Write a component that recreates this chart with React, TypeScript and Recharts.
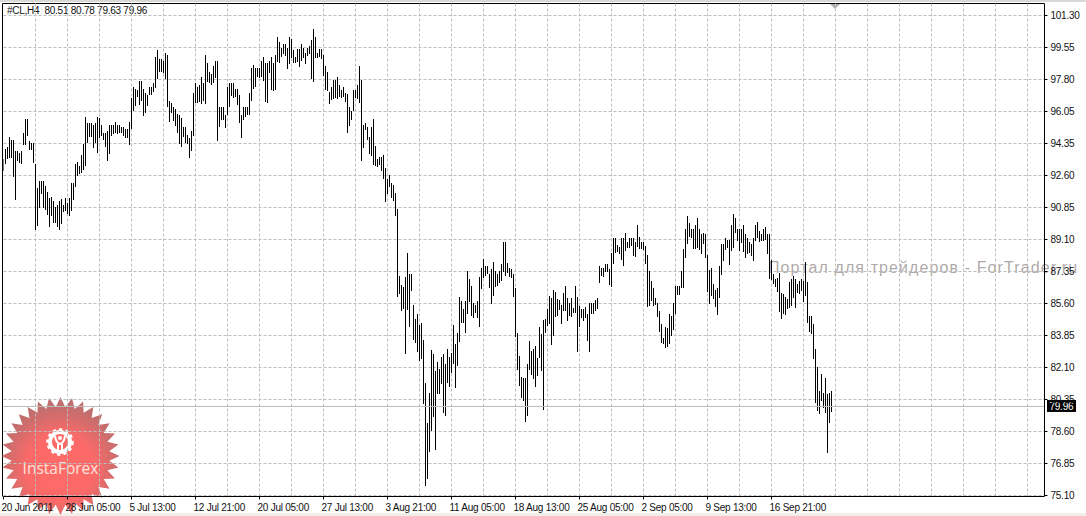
import { ComposedChart, Bar, XAxis, YAxis, CartesianGrid, ReferenceLine } from 'recharts';

const symbolLine = '#CL,H4  80.51 80.78 79.63 79.96';
const lastPrice = 79.96;
const lastPriceLabel = '79.96';

const highs = [
  93.44, 94.04, 94.10, 94.69, 94.53, 94.48, 93.88, 93.93, 93.77, 93.93, 94.86, 95.67, 95.67, 94.43, 94.32, 94.32, 93.22, 91.91, 92.29, 92.29,
  92.29, 92.02, 91.64, 91.36, 91.42, 91.20, 90.82, 90.98, 91.20, 91.31, 90.98, 91.36, 91.09, 91.36, 92.18, 92.13, 93.22, 93.33, 93.11, 93.71,
  94.26, 95.78, 95.41, 95.41, 95.41, 95.35, 95.41, 95.78, 95.73, 95.30, 94.86, 94.86, 95.02, 95.35, 95.35, 95.35, 95.46, 95.35, 95.30, 95.19,
  95.24, 95.13, 95.13, 95.51, 96.82, 97.42, 97.31, 97.21, 97.75, 97.75, 97.31, 97.05, 96.94, 97.37, 97.42, 97.59, 99.06, 99.39, 98.90, 98.95,
  98.84, 99.23, 99.17, 96.66, 96.55, 96.28, 96.17, 95.95, 95.89, 95.73, 95.24, 95.19, 94.75, 94.64, 94.97, 97.05, 97.59, 97.37, 97.53, 97.92,
  97.64, 99.17, 98.68, 98.19, 98.13, 98.57, 98.79, 98.84, 96.28, 96.33, 96.33, 95.89, 97.37, 97.59, 97.64, 97.64, 97.31, 97.31, 96.94, 95.89,
  96.28, 96.33, 96.28, 97.05, 98.41, 98.62, 98.41, 98.41, 98.41, 98.84, 99.01, 98.68, 98.68, 98.84, 99.01, 98.73, 99.12, 100.10, 99.83,
  99.55, 99.77, 99.77, 99.55, 100.15, 100.04, 99.39, 99.01, 99.45, 99.45, 99.72, 99.50, 99.28, 99.55, 99.66, 99.94, 100.59, 100.15, 99.28, 99.45,
  99.45, 99.12, 98.57, 98.19, 97.15, 97.42, 97.80, 97.80, 97.97, 97.53, 97.26, 97.37, 97.05, 96.99, 96.28, 96.06, 97.26, 97.26, 97.53, 98.57,
  97.80, 95.35, 95.41, 95.19, 94.69, 95.24, 95.67, 94.15, 93.44, 93.60, 93.55, 93.71, 93.00, 92.35, 92.57, 92.18, 92.07, 91.59, 90.76,
  87.10, 86.61, 86.50, 87.05, 88.31, 87.21, 87.21, 85.52, 84.76, 85.03, 84.43, 84.54, 83.61, 81.26, 79.08, 80.72, 83.06, 82.85, 81.92, 82.41,
  82.03, 82.68, 82.85, 82.30, 83.12, 82.68, 82.90, 84.43, 83.39, 83.99, 85.96, 85.74, 85.30, 85.69, 87.38, 86.89, 86.56, 85.63, 85.52, 85.74,
  87.05, 87.54, 88.03, 87.65, 87.60, 87.21, 87.49, 87.87, 87.38, 87.21, 87.38, 87.76, 88.91, 88.91, 87.81, 87.54, 87.49, 87.21, 86.45, 83.99,
  82.74, 81.59, 81.54, 81.54, 82.30, 83.56, 82.96, 83.12, 83.28, 82.63, 84.32, 83.94, 84.70, 84.76, 85.30, 86.01, 85.90, 86.34, 86.23, 85.85,
  85.79, 85.52, 86.18, 86.56, 85.90, 85.63, 85.90, 85.36, 86.56, 85.96, 85.47, 85.30, 85.30, 85.41, 84.98, 85.58, 85.63, 85.63, 85.79, 85.90,
  87.60, 87.54, 87.54, 87.71, 87.71, 87.49, 88.31, 89.18, 89.13, 88.80, 88.69,
  89.13, 89.13, 89.45, 88.91, 89.13, 89.18, 89.13, 88.96, 89.84, 89.23, 88.96, 88.91, 88.74, 88.20, 87.38, 86.83, 86.40, 85.90, 85.58, 85.19,
  84.48, 83.72, 84.32, 84.26, 84.98, 84.92, 85.58, 86.56, 86.56, 86.56, 87.38, 88.58, 89.67, 90.38, 89.95, 89.67, 89.67, 89.89, 90.22, 89.67,
  89.40, 89.45, 89.40, 88.25, 87.43, 87.54, 86.67, 86.29, 86.40, 87.60, 88.85, 88.85, 89.18, 89.02, 89.07, 89.89, 90.49, 90.27, 89.67, 89.62,
  89.67, 89.84, 89.40, 89.18, 88.91, 88.85, 89.13, 89.84, 90.05, 89.56, 89.40, 89.67, 89.73, 89.40, 89.40, 87.98, 87.21, 86.94, 86.99, 87.27,
  86.18, 86.12, 85.96, 85.85, 86.78, 86.89, 87.10, 86.94, 86.67, 86.83, 86.89, 86.83, 87.87, 86.78, 84.92, 84.92, 84.48, 83.12, 82.14, 80.83,
  81.75, 80.72, 81.54, 80.66, 80.72, 80.78,
];

const lows = [
  92.79, 93.22, 93.44, 93.55, 93.55, 92.46, 91.20, 93.38, 93.22, 93.22, 94.21, 94.26, 94.75, 93.93, 93.93, 93.22, 89.62, 89.84, 90.82, 91.59,
  90.82, 90.71, 90.38, 89.78, 90.38, 90.00, 89.95, 89.78, 89.62, 89.95, 90.60, 90.65, 90.49, 90.38, 90.65, 91.20, 91.96, 92.57, 92.68, 92.73,
  92.84, 93.11, 94.32, 94.64, 94.64, 94.10, 94.32, 93.82, 94.64, 94.69, 94.48, 94.10, 93.38, 93.77, 94.75, 94.86, 94.86, 94.86, 94.86, 94.86,
  94.75, 94.64, 94.64, 94.26, 95.13, 96.11, 96.39, 96.82, 96.44, 96.66, 95.84, 95.95, 96.33, 96.94, 96.99, 97.10, 97.37, 97.80, 98.19, 98.24,
  98.19, 97.80, 96.33, 95.51, 96.00, 95.51, 95.24, 94.91, 94.32, 94.15, 94.69, 94.32, 94.26, 93.55, 93.88, 94.69, 96.50, 96.50, 96.60, 96.44,
  96.66, 96.50, 97.64, 97.59, 97.53, 97.64, 97.86, 94.48, 95.19, 95.62, 95.62, 95.19, 95.84, 96.28, 96.94, 96.82, 96.88, 96.44, 95.41, 94.64,
  95.57, 95.79, 95.84, 95.84, 96.60, 97.31, 97.37, 97.92, 97.86, 97.97, 97.70, 96.55, 96.50, 98.19, 97.21, 97.21, 97.21, 98.73, 98.68,
  99.06, 99.23, 99.12, 98.41, 98.68, 99.01, 98.68, 98.68, 98.73, 98.46, 98.79, 98.95, 98.68, 99.12, 99.23, 97.80, 97.70, 99.01, 99.01, 99.01,
  98.90, 97.97, 97.26, 97.15, 96.50, 96.71, 96.77, 96.82, 96.77, 96.88, 96.82, 96.82, 96.55, 94.86, 95.24, 95.57, 96.11, 96.82, 96.77, 96.55,
  93.38, 94.10, 95.02, 94.48, 93.77, 93.66, 93.17, 93.06, 93.00, 93.17, 92.79, 92.40, 91.15, 91.53, 91.91, 91.36, 91.20, 90.33, 85.96,
  86.12, 85.19, 85.30, 82.85, 85.19, 84.32, 86.29, 83.61, 83.45, 82.96, 82.46, 82.57, 80.12, 75.64, 76.02, 77.50, 78.64, 79.41, 77.60, 80.66,
  80.66, 81.21, 79.62, 79.46, 81.26, 81.04, 81.81, 82.30, 80.99, 82.19, 83.50, 84.54, 84.54, 83.94, 85.03, 85.63, 84.92, 84.81, 85.08, 84.81,
  84.32, 86.40, 86.99, 87.10, 87.16, 86.45, 85.58, 86.01, 86.50, 86.56, 86.72, 86.83, 87.27, 87.05, 87.27, 87.05, 86.99, 85.96, 83.77, 81.97,
  81.10, 80.44, 80.28, 79.13, 79.46, 81.97, 81.64, 81.48, 81.04, 81.64, 82.63, 81.92, 79.79, 83.99, 84.37, 84.48, 83.34, 83.83, 84.87, 84.92,
  85.25, 84.48, 85.19, 85.19, 84.65, 84.92, 84.87, 85.08, 85.08, 82.96, 84.32, 84.81, 84.65, 84.81, 83.50, 82.90, 85.03, 85.03, 85.19, 85.30,
  86.67, 87.10, 87.05, 87.27, 87.27, 86.61, 86.45, 87.76, 88.31, 88.42, 88.31,
  87.92, 87.60, 88.47, 88.58, 88.58, 88.74, 88.14, 88.14, 88.63, 88.58, 88.58, 88.47, 87.76, 85.36, 85.47, 85.74, 85.41, 85.52, 84.81, 84.05,
  83.45, 83.39, 83.17, 83.23, 83.34, 83.83, 84.10, 85.03, 86.07, 86.07, 86.45, 86.45, 88.09, 88.85, 89.18, 89.18, 88.58, 88.58, 88.58, 88.52,
  88.31, 88.85, 88.09, 86.23, 85.58, 86.01, 85.85, 85.36, 84.92, 85.85, 87.16, 87.92, 88.52, 88.58, 87.71, 88.47, 88.63, 89.45, 89.02, 88.42,
  88.91, 88.36, 88.09, 88.31, 88.31, 88.20, 87.87, 88.96, 89.18, 88.96, 89.02, 89.02, 89.02, 88.31, 86.94, 86.89, 86.67, 86.50, 86.23, 85.14,
  84.76, 85.03, 84.98, 85.30, 85.36, 85.41, 85.90, 85.36, 86.18, 86.12, 86.23, 85.69, 86.01, 84.54, 84.05, 83.94, 82.57, 80.17, 79.73, 79.57,
  80.28, 79.90, 79.62, 77.44, 79.08, 79.63,
];

const xTickIndexes = [0, 32, 64, 96, 128, 160, 192, 224, 256, 288, 320, 352, 384];
const xTickLabels = [
  '20 Jun 2011', '28 Jun 05:00', '5 Jul 13:00', '12 Jul 21:00', '20 Jul 05:00', '27 Jul 13:00', '3 Aug 21:00',
  '11 Aug 05:00', '18 Aug 13:00', '25 Aug 05:00', '2 Sep 05:00', '9 Sep 13:00', '16 Sep 21:00',
];
const xGridIndexes = [16, 32, 48, 64, 80, 96, 112, 128, 144, 160, 176, 192, 208, 224, 240, 256, 272, 288, 304, 320, 336, 352, 368, 384, 400, 416, 432, 448, 464, 480, 496, 512];

const yTickValues = [101.3, 99.553, 97.807, 96.06, 94.313, 92.567, 90.82, 89.073, 87.327, 85.58, 83.833, 82.087, 80.34, 78.593, 76.847, 75.1];
const yTickLabels = ['101.30', '99.55', '97.80', '96.05', '94.35', '92.60', '90.85', '89.10', '87.35', '85.60', '83.85', '82.10', '80.35', '78.60', '76.85', '75.10'];

const chartData = highs.map((high, i) => ({ idx: i, range: [lows[i], high] }));

const LABEL_FONT = '"Liberation Sans", sans-serif';

function XTick({ x, y, index }: { x?: number; y?: number; index?: number }) {
  return (
    <text x={(x ?? 0) - 2} y={(y ?? 0) + 9} fontSize={10} letterSpacing={-0.25} fontFamily={LABEL_FONT} fill="#111" textAnchor="start">
      {xTickLabels[index ?? 0]}
    </text>
  );
}

function PriceTag({ viewBox }: { viewBox?: { x: number; y: number; width: number } }) {
  if (!viewBox) return null;
  const right = viewBox.x + viewBox.width;
  return (
    <g>
      <rect x={right + 2.5} y={viewBox.y - 6.5} width={29} height={12} fill="#000" />
      <text x={right + 5} y={viewBox.y + 3.5} fontSize={10} letterSpacing={-0.25} fontFamily={LABEL_FONT} fill="#fff">
        {lastPriceLabel}
      </text>
    </g>
  );
}

// snap each bar to whole pixels, at this spacing they are single black lines
function PixelBar({ x, y, height }: { x?: number; y?: number; height?: number }) {
  const top = Math.round(y ?? 0);
  return <rect x={Math.ceil(x ?? 0)} y={top} width={1} height={Math.max(1, Math.round(height ?? 0))} fill="#000" />;
}

function starPoints(cx: number, cy: number, outer: number, inner: number, spikes: number) {
  const pts: string[] = [];
  for (let i = 0; i < spikes * 2; i++) {
    const r = i % 2 === 0 ? outer : inner;
    const a = (Math.PI * i) / spikes - Math.PI / 2;
    pts.push(`${(cx + r * Math.cos(a)).toFixed(1)},${(cy + r * Math.sin(a)).toFixed(1)}`);
  }
  return pts.join(' ');
}

function Backdrop() {
  return (
    <svg width={1086} height={516} style={{ position: 'absolute', left: 0, top: 0 }}>
      <defs>
        <radialGradient id="badge" cx="50%" cy="60%" r="52%">
          <stop offset="0%" stopColor="#ff6a68" />
          <stop offset="55%" stopColor="#fb6a68" />
          <stop offset="100%" stopColor="#c26e6e" />
        </radialGradient>
      </defs>
      <rect x={0} y={0} width={1086} height={2} fill="#d8d8d4" />
      <rect x={0} y={513} width={1086} height={3} fill="#f0efe8" />
      <path d="M2.5 496.5 V3.5 H1044.5" fill="none" stroke="#000" />
      <path d="M830 4 L840 4 L835 9 Z" fill="#b0b0b0" />
      <text x={7} y={14} fontSize={10} letterSpacing={-0.25} fontFamily={LABEL_FONT} fill="#111" style={{ whiteSpace: 'pre' }}>
        {symbolLine}
      </text>
      <text x={768} y={273} fontSize={16} letterSpacing={1.1} fontFamily='"Liberation Sans", sans-serif' fill="#a09898" fillOpacity={0.85}>
        Портал для трейдеров - ForTrader.ru
      </text>
      <polygon points={starPoints(60.5, 456, 59, 49, 32)} fill="url(#badge)" />
      <g>
        <circle cx={60} cy={442} r={10} fill="none" stroke="#fff" strokeWidth={4} />
        <circle cx={60} cy={442} r={12.5} fill="none" stroke="#fff" strokeWidth={2.5} strokeDasharray="3.2 3.2" />
        <circle cx={60} cy={438} r={2} fill="#fff" />
        <path d="M55 436 Q56 443 60 444 Q64 443 65 436 M58 444 L58 453 M62 444 L62 453" fill="none" stroke="#fff" strokeWidth={2} />
      </g>
      <text x={60.5} y={474} fontSize={15.5} textAnchor="middle" fontFamily='"Open Sans", sans-serif' fill="#ffe3dc">
        InstaForex
      </text>
    </svg>
  );
}

export default function App() {
  return (
    <div style={{ position: 'absolute', left: 0, top: 0, width: 1086, height: 516, background: '#fff', overflow: 'hidden' }}>
      <Backdrop />
      <ComposedChart
        width={1086}
        height={516}
        data={chartData}
        margin={{ top: 3.5, right: 0, bottom: 0, left: 3.5 }}
      >
        <CartesianGrid
          stroke="#bdbdbd"
          strokeDasharray="3 2"
          verticalValues={xGridIndexes}
          horizontalValues={yTickValues}
        />
        <XAxis
          dataKey="idx"
          type="number"
          domain={[0, 520.5]}
          ticks={xTickIndexes}
          tick={<XTick />}
          tickSize={3}
          height={19.5}
          interval={0}
          axisLine={{ stroke: '#000' }}
          tickLine={{ stroke: '#000' }}
          allowDataOverflow
        />
        <YAxis
          orientation="right"
          type="number"
          domain={[75.045, 101.955]}
          ticks={yTickValues}
          tickFormatter={(_: number, i: number) => yTickLabels[i]}
          tick={{ fontSize: 10, letterSpacing: -0.25, fontFamily: LABEL_FONT, fill: '#111' }}
          tickSize={3}
          tickMargin={3}
          width={41.5}
          interval={0}
          axisLine={{ stroke: '#000' }}
          tickLine={{ stroke: '#000' }}
          allowDataOverflow
        />
        <Bar dataKey="range" fill="#000" barSize={1} shape={<PixelBar />} isAnimationActive={false} />
        <ReferenceLine y={lastPrice} stroke="#bdbdbd" label={<PriceTag />} />
      </ComposedChart>
    </div>
  );
}
